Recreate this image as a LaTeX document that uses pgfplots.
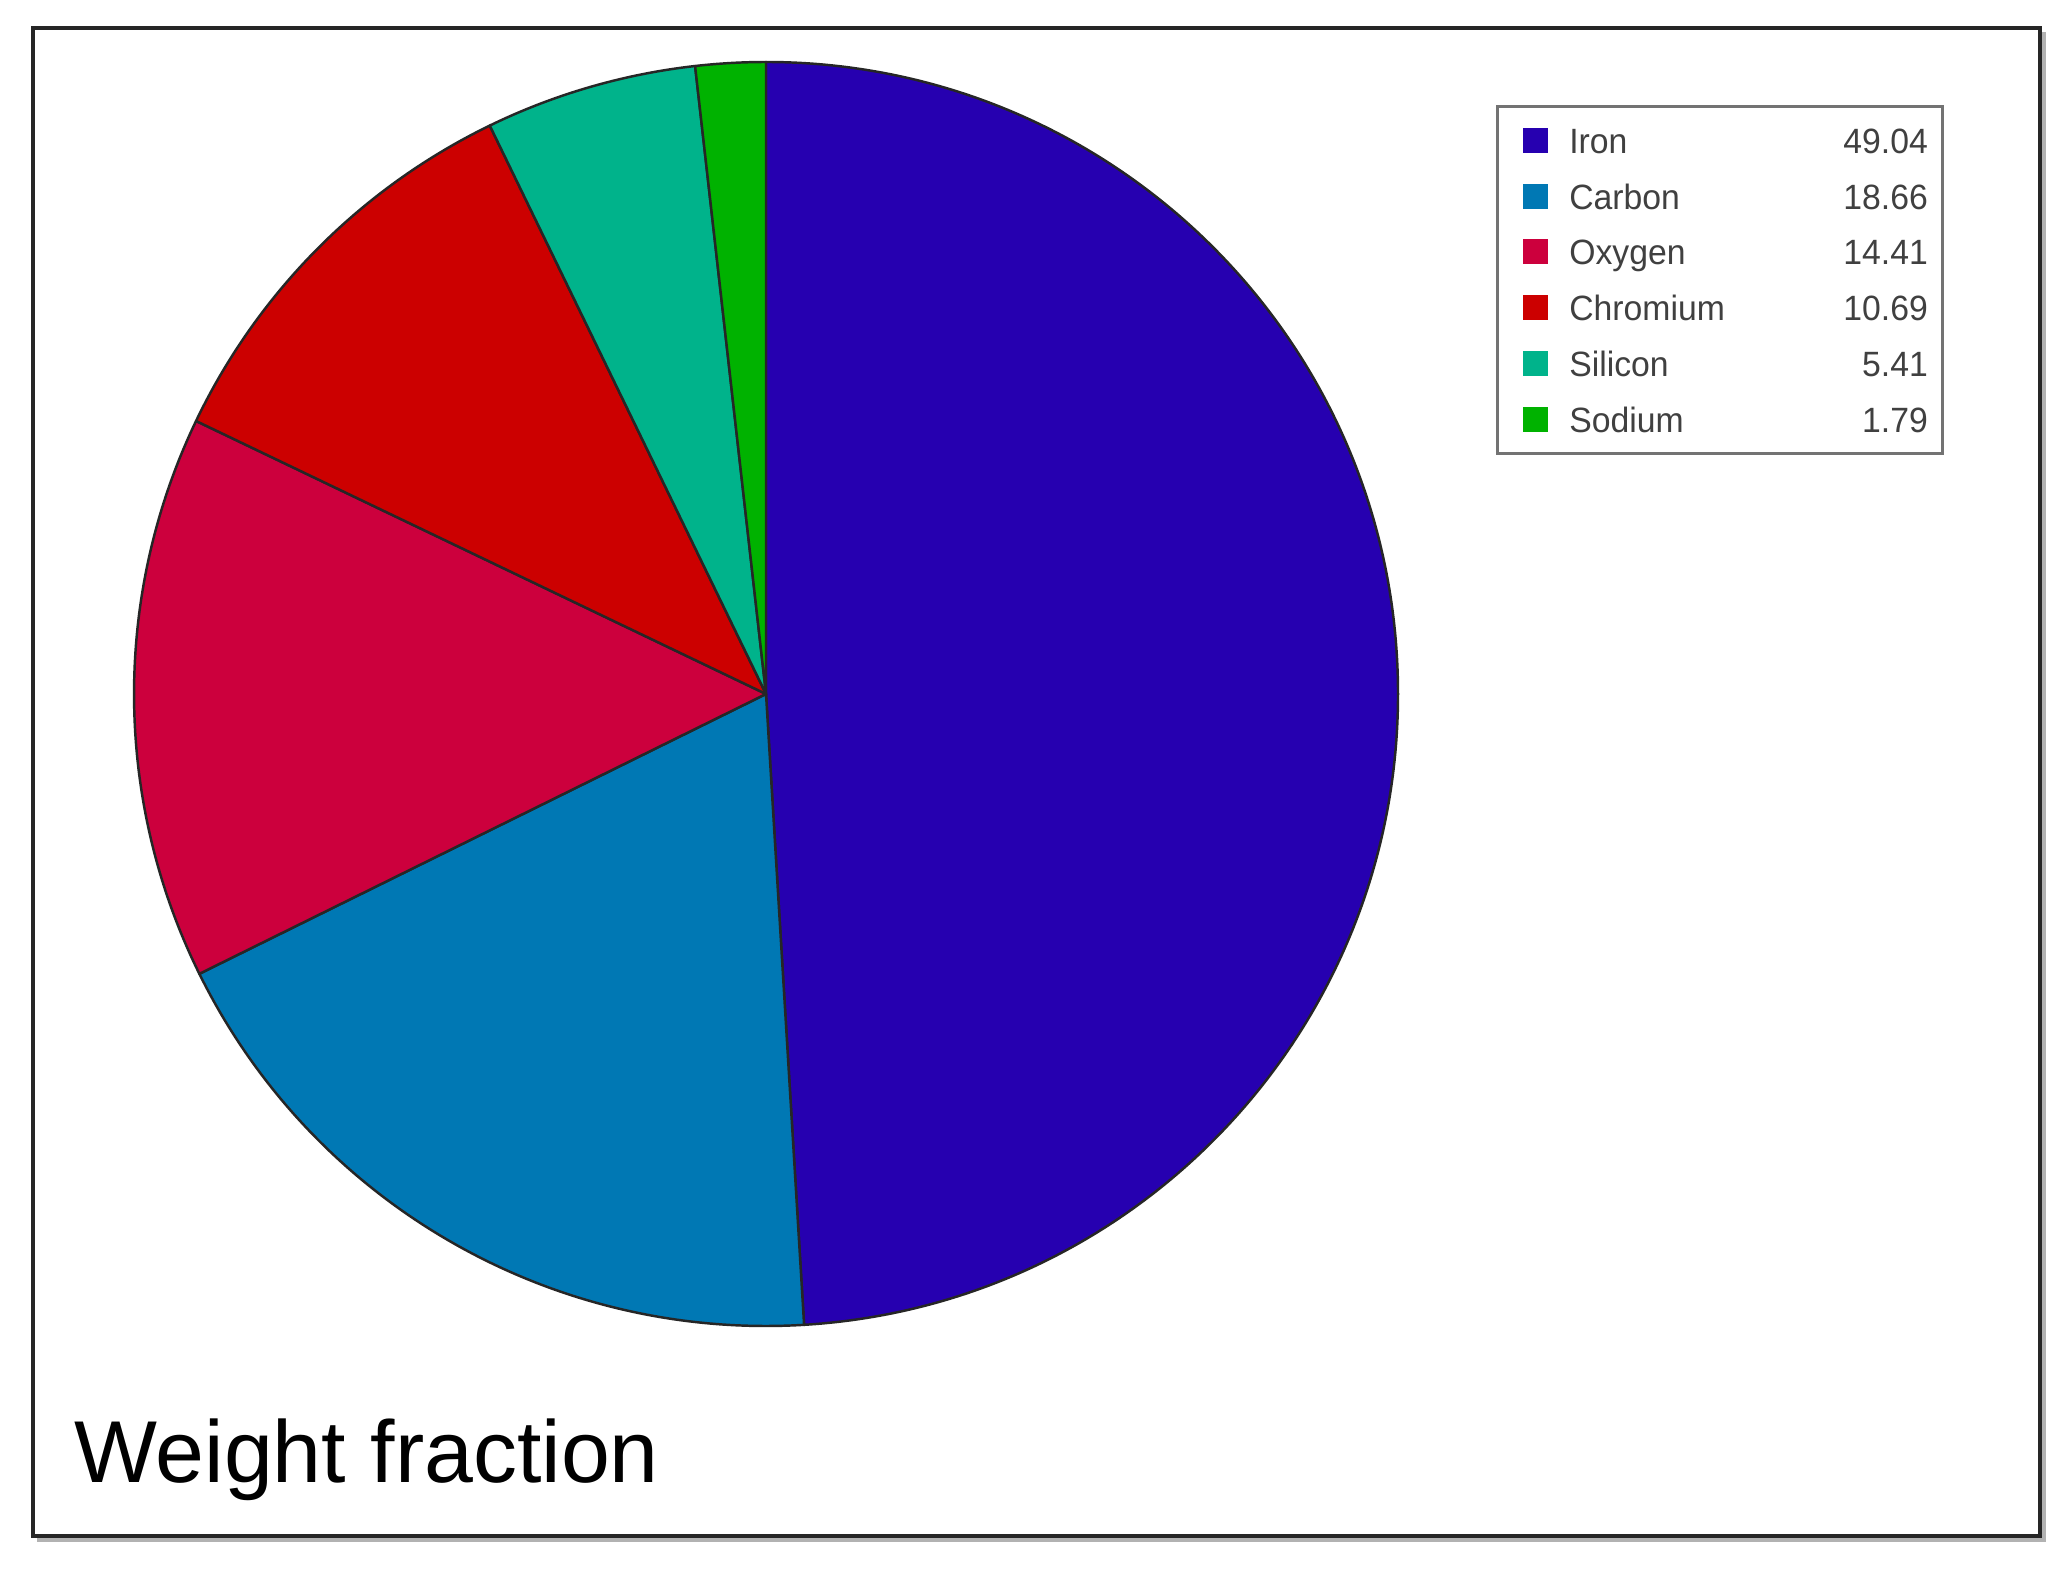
\documentclass[border=0pt]{standalone}
\usepackage{fontspec}
\setmainfont{Liberation Sans}
\newfontfamily\legfont[FakeStretch=0.96]{Liberation Sans}
\newfontfamily\titlefont{Liberation Sans}
\usepackage{pgfplots}
\usepackage{pgfplotstable}
\pgfplotsset{compat=1.18}
\definecolor{cIron}{HTML}{2600B0}
\definecolor{cCarbon}{HTML}{0078B4}
\definecolor{cOxygen}{HTML}{CC003D}
\definecolor{cChromium}{HTML}{CC0000}
\definecolor{cSilicon}{HTML}{00B38B}
\definecolor{cSodium}{HTML}{00B200}

% weight fraction (%), clockwise from 12 o'clock
\pgfplotstableread{
name value col
Iron 49.04 cIron
Carbon 18.66 cCarbon
Oxygen 14.41 cOxygen
Chromium 10.69 cChromium
Silicon 5.41 cSilicon
Sodium 1.79 cSodium
}\piedata

\begin{document}
\begin{tikzpicture}
\begin{axis}[
    x=0.1mm, y=0.1mm,
    xmin=0, xmax=2069, ymin=0, ymax=1568,
    hide axis, clip=false,
    legend cell align=left,
    legend image code/.code={\path (0,0); \fill[#1,draw=none] (0.95mm,-1.25mm) rectangle (3.45mm,1.25mm);},
    legend style={at={(axis cs:1496,1463)}, anchor=north west,
        draw=black!55, line width=0.8pt,
        inner xsep=1.5mm, inner ysep=2.1mm,
        row sep=2.98mm, column sep=2.1mm,
        font=\legfont\fontsize{10pt}{12pt}\selectfont, text=black!75,
        nodes={inner sep=0pt, text height=2.6mm, text depth=0pt}},
]
\fill[white] (axis cs:0,0) rectangle (axis cs:2069,1568);
\draw[black!30, line width=1.2pt] (axis cs:37,28) -- (axis cs:2044,28) -- (axis cs:2044,1536);
\draw[black!85, line width=1.2pt] (axis cs:33,32) rectangle (axis cs:2040,1540);

% pie wedges
\def\cum{0}
\pgfplotsforeachungrouped \i in {0,...,5}{%
  \pgfplotstablegetelem{\i}{value}\of\piedata \let\val\pgfplotsretval
  \pgfplotstablegetelem{\i}{col}\of\piedata \let\col\pgfplotsretval
  \pgfmathsetmacro\sa{90-3.6*\cum}
  \pgfmathsetmacro\ea{90-3.6*(\cum+\val)}
  \pgfmathsetmacro\px{766+632*cos(\sa)}
  \pgfmathsetmacro\py{874+632*sin(\sa)}
  \pgfmathsetmacro\cum{\cum+\val}
  \edef\wedge{\noexpand\filldraw[fill=\col, draw=black!85, line width=0.7pt, line join=round]
    (axis cs:766,874) -- (axis cs:\px,\py) arc[start angle=\sa, end angle=\ea, radius=6.32cm] -- cycle;}
  \wedge
}

\node[anchor=base west, font=\titlefont\fontsize{25pt}{30pt}\selectfont] at (axis cs:62,86) {Weight fraction};

\addlegendimage{fill=cIron}\addlegendentry{\makebox[35.85mm][l]{Iron\hfill 49.04}}
\addlegendimage{fill=cCarbon}\addlegendentry{\makebox[35.85mm][l]{Carbon\hfill 18.66}}
\addlegendimage{fill=cOxygen}\addlegendentry{\makebox[35.85mm][l]{Oxygen\hfill 14.41}}
\addlegendimage{fill=cChromium}\addlegendentry{\makebox[35.85mm][l]{Chromium\hfill 10.69}}
\addlegendimage{fill=cSilicon}\addlegendentry{\makebox[35.85mm][l]{Silicon\hfill 5.41}}
\addlegendimage{fill=cSodium}\addlegendentry{\makebox[35.85mm][l]{Sodium\hfill 1.79}}
\end{axis}
\end{tikzpicture}
\end{document}
